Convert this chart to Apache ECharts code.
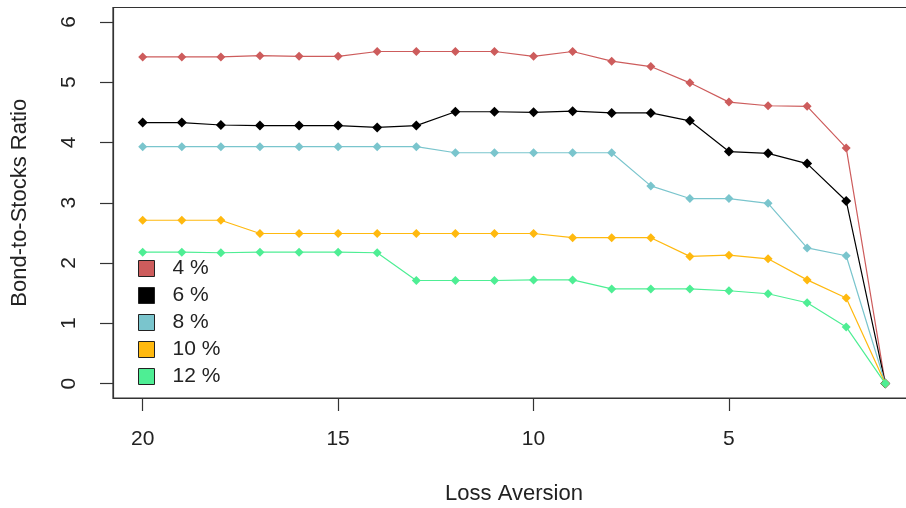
<!DOCTYPE html>
<html>
<head>
<meta charset="utf-8">
<script src="https://cdn.jsdelivr.net/npm/echarts@6/dist/echarts.min.js"></script>
<style>html,body{margin:0;padding:0;background:#fff}#c{width:906px;height:508px}</style>
</head>
<body>
<div id="c"></div>
<script>
var lossAversion = [20,19,18,17,16,15,14,13,12,11,10,9,8,7,6,5,4,3,2,1];
var seriesNames = ['4 %','6 %','8 %','10 %','12 %'];
var r4  = [5.42,5.42,5.42,5.44,5.43,5.43,5.51,5.51,5.51,5.51,5.43,5.51,5.35,5.26,4.99,4.67,4.61,4.60,3.91,0];
var r6  = [4.33,4.33,4.29,4.28,4.28,4.28,4.25,4.28,4.51,4.51,4.50,4.52,4.49,4.49,4.36,3.85,3.82,3.65,3.03,0];
var r8  = [3.93,3.93,3.93,3.93,3.93,3.93,3.93,3.93,3.83,3.83,3.83,3.83,3.83,3.28,3.07,3.07,2.99,2.25,2.12,0];
var r10 = [2.71,2.71,2.71,2.49,2.49,2.49,2.49,2.49,2.49,2.49,2.49,2.42,2.42,2.42,2.11,2.13,2.07,1.72,1.42,0];
var r12 = [2.18,2.18,2.17,2.18,2.18,2.18,2.17,1.71,1.71,1.71,1.72,1.72,1.57,1.57,1.57,1.54,1.49,1.34,0.94,0];
var xTicks = [5,10,15,20];
var yTicks = [0,1,2,3,4,5,6];
var colors = ['#CD5C5C','#000000','#7AC5CD','#FFB90F','#4EEE94'];
var values = [r4, r6, r8, r10, r12];

var font = 'Liberation Sans, Arial, sans-serif';
var chart = echarts.init(document.getElementById('c'), null, {renderer:'canvas'});
var series = values.map(function(v, i){
  return {
    name: seriesNames[i],
    type: 'line',
    data: v.map(function(y, j){ return [lossAversion[j], y]; }),
    symbol: 'diamond',
    symbolSize: i === 1 ? 10 : 9,
    lineStyle: {color: colors[i], width: 1.2},
    itemStyle: {color: colors[i]},
    animation: false,
    z: 2 + i
  };
});
chart.setOption({
  animation: false,
  color: colors,
  grid: {left: 113, top: 7.5, width: 802, height: 390.5, containLabel: false, outerBoundsMode: 'none', show: true, borderColor: '#333', borderWidth: 1.2, backgroundColor: 'transparent'},
  legend: {
    data: seriesNames,
    orient: 'vertical',
    left: 133, top: 253,
    icon: 'rect',
    itemWidth: 16, itemHeight: 16,
    itemGap: 6,
    selectedMode: false,
    itemStyle: {borderColor: '#222', borderWidth: 1},
    textStyle: {fontFamily: font, fontSize: 21, color: '#222', padding: [0,0,0,13]}
  },
  xAxis: {
    type: 'value', min: 0.24, max: 20.76, inverse: true,
    name: 'Loss Aversion', nameLocation: 'middle', nameGap: 85,
    nameTextStyle: {fontFamily: font, fontSize: 22, color: '#222'},
    axisLine: {show: true, onZero: false, lineStyle: {color: '#333', width: 1.2}},
    axisTick: {show: true, length: 13, customValues: xTicks, lineStyle: {color: '#333', width: 1.2}},
    axisLabel: {customValues: xTicks, fontFamily: font, fontSize: 21, color: '#222', margin: 31},
    splitLine: {show: false}
  },
  yAxis: {
    type: 'value', min: -0.24, max: 6.24,
    name: 'Bond-to-Stocks Ratio', nameLocation: 'middle', nameGap: 82,
    nameTextStyle: {fontFamily: font, fontSize: 22, color: '#222'},
    axisLine: {show: true, onZero: false, lineStyle: {color: '#333', width: 1.2}},
    axisTick: {show: true, length: 13, customValues: yTicks, lineStyle: {color: '#333', width: 1.2}},
    axisLabel: {customValues: yTicks, rotate: 90, fontFamily: font, fontSize: 21, color: '#222', margin: 33},
    splitLine: {show: false}
  },
  series: series
});
</script>
</body>
</html>
